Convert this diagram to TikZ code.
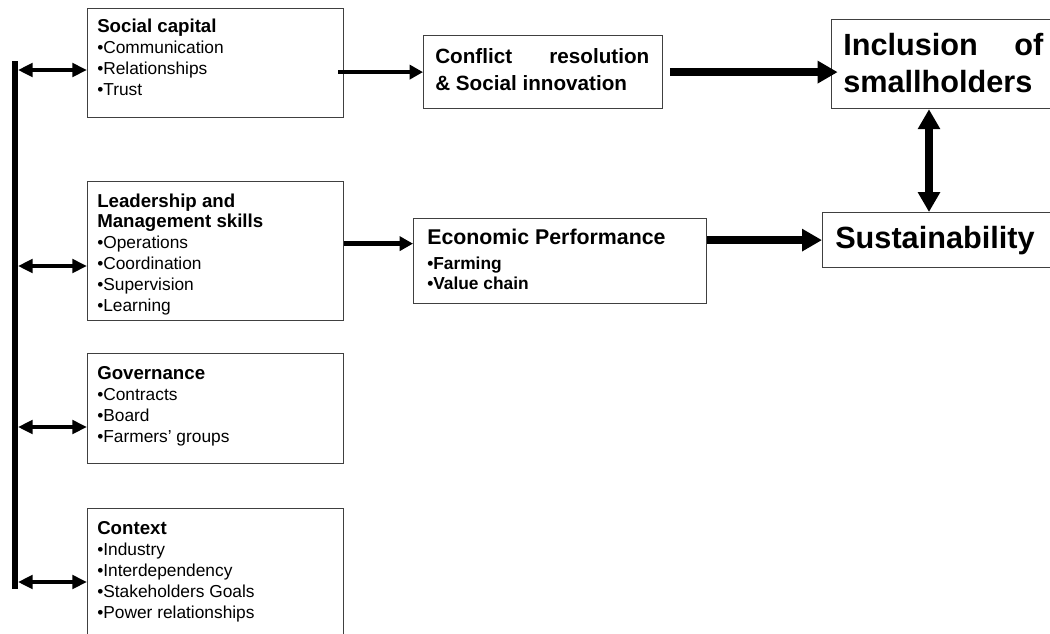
\documentclass[tikz,border=0pt]{standalone}
\usepackage{fontspec}
\setmainfont{Liberation Sans}
\usetikzlibrary{arrows.meta,positioning}
\newcommand{\headfont}{\fontsize{14}{15.6}\selectfont\bfseries}
\newcommand{\bigfont}{\fontsize{23}{27.75}\selectfont\bfseries}
\tikzset{
    %Define style for boxes
    box/.style={
           rectangle,
           draw=black!75, line width=0.9pt,
           anchor=north west,
           inner sep=0pt},
    %Define style for the text inside the boxes (placed on its last line)
    boxtext/.style={
           anchor=base west,
           inner sep=0pt,
           align=left,
           font=\fontsize{13}{15.6}\selectfont},
    % Define arrow styles
    sidearrow/.style={
           {Triangle[length=11pt,width=10pt]}-{Triangle[length=11pt,width=10pt]},
           line width=3pt},
    thinarrow/.style={
           -{Triangle[length=10pt,width=10.5pt]},
           line width=3.4pt},
    thickarrow/.style={
           -{Triangle[length=15pt,width=16pt]},
           line width=6pt},
    boththick/.style={
           {Triangle[length=15pt,width=16pt]}-{Triangle[length=15pt,width=16pt]},
           line width=6pt}
}

\begin{document}
\begin{tikzpicture}[x=0.75pt, y=-0.75pt]
    \useasboundingbox (0,0) rectangle (1050,633);
    \clip (0,0) rectangle (1050,633);
    % left column
    \node[box, minimum width=192pt, minimum height=81.75pt]  (social)  at (87,8)   {};
    \node[box, minimum width=192pt, minimum height=104.25pt] (leader)  at (87,181) {};
    \node[box, minimum width=192pt, minimum height=82.5pt]   (gov)     at (87,353) {};
    \node[box, minimum width=192pt, minimum height=105pt]    (context) at (87,508) {};
    \node[boxtext] (socialtxt) at ([shift={(10,87)}]social.north west)
        {{\headfont Social capital}\\ •Communication\\ •Relationships\\ •Trust};
    \node[boxtext] (leadertxt) at ([shift={(10,130)}]leader.north west)
        {{\headfont Leadership and}\\ {\headfont Management skills}\\ •Operations\\ •Coordination\\ •Supervision\\ •Learning};
    \node[boxtext] (govtxt) at ([shift={(10,89)}]gov.north west)
        {{\headfont Governance}\\ •Contracts\\ •Board\\ •Farmers’ groups};
    \node[boxtext] (contexttxt) at ([shift={(10,110)}]context.north west)
        {{\headfont Context}\\ •Industry\\ •Interdependency\\ •Stakeholders Goals\\ •Power relationships};
    % middle and right
    \node[box, minimum width=179.25pt, minimum height=54.75pt] (conflict) at (423,35)  {};
    \node[box, minimum width=219.75pt, minimum height=63.75pt] (econ)     at (413,218) {};
    \node[box, minimum width=180pt,    minimum height=66.75pt] (incl)     at (831,19)  {};
    \node[box, minimum width=180pt,    minimum height=41.25pt] (sust)     at (822,212) {};
    \node[boxtext, font=\fontsize{15.5}{20.25}\selectfont\bfseries] (conflicttxt) at ([shift={(12,55)}]conflict.north west)
        {\makebox[160.5pt][s]{Conflict resolution}\\ \& Social innovation};
    \node[boxtext, font=\fontsize{13}{15}\selectfont\bfseries] (econtxt) at ([shift={(14,71)}]econ.north west)
        {{\fontsize{16}{15}\selectfont Economic Performance}\\[3.75pt] •Farming\\ •Value chain};
    \node[boxtext, font=\bigfont] (incltxt) at ([shift={(12,73)}]incl.north west)
        {\makebox[150pt][s]{Inclusion of}\\ smallholders};
    \node[boxtext, font=\bigfont] (susttxt) at ([shift={(13,36)}]sust.north west) {Sustainability};
    % vertical bar on the left
    \coordinate (bartop) at (15,61);
    \coordinate (barbottom) at (15,589);
    \draw[line width=4.5pt] (bartop) -- (barbottom);
    \foreach \b/\y in {social/70, leader/266, gov/427, context/582}
        \draw[sidearrow] ([xshift=2.2pt]bartop |- 0,\y) -- (\b.west |- 0,\y);
    % arrows between boxes
    \draw[thinarrow]  ([xshift=-4.5pt]social.east |- conflict.west) -- (conflict.west);
    \draw[thinarrow]  ([yshift=5.6pt]leader.east) -- ([yshift=5.6pt]leader.east -| econ.west);
    \draw[thickarrow] ([xshift=5pt]conflict.east) -- ([xshift=5pt]conflict.east -| incl.west);
    \draw[thickarrow] (econ.east |- sust.west) -- (sust.west);
    \coordinate (vlink) at (929,0);
    \draw[boththick] (vlink |- incl.south) -- (vlink |- sust.north);
\end{tikzpicture}
\end{document}
